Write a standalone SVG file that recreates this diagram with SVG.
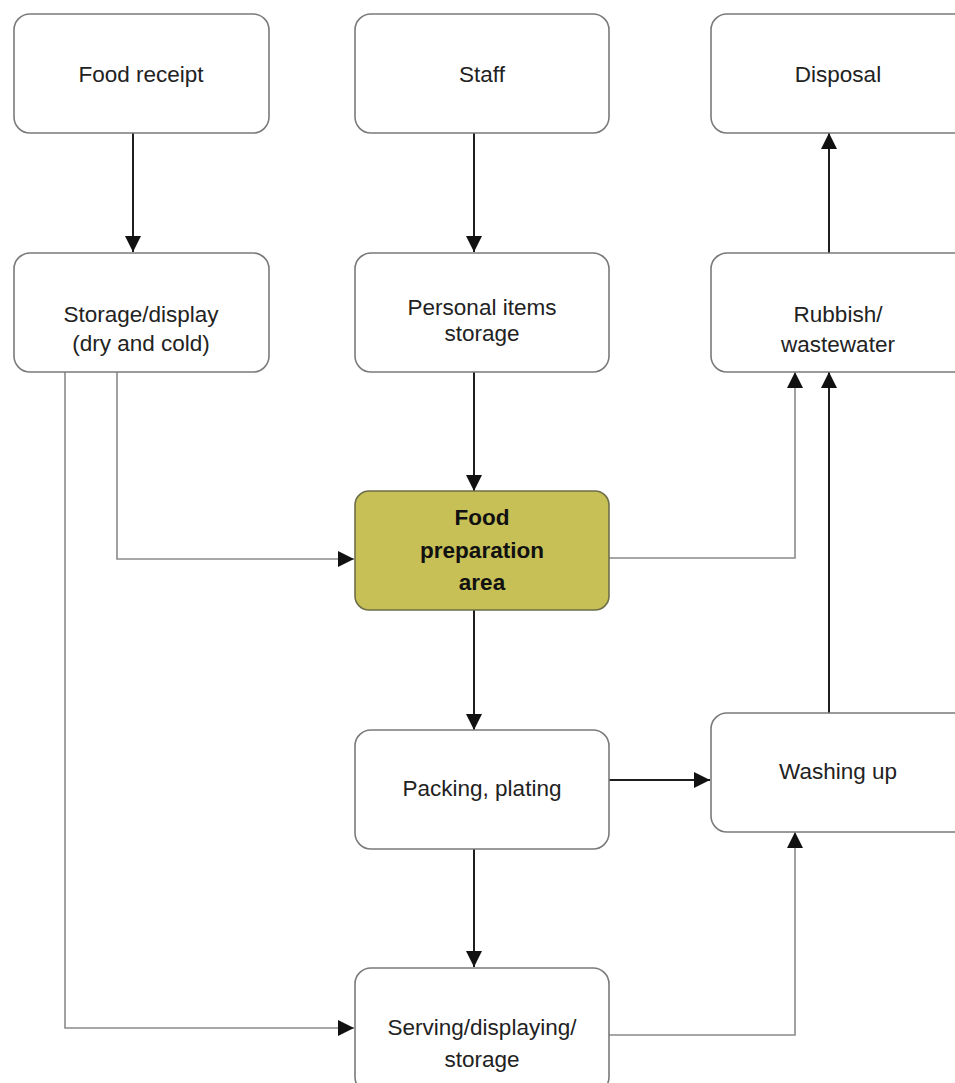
<svg xmlns="http://www.w3.org/2000/svg" width="955" height="1083" viewBox="0 0 955 1083">
<defs>
<style>
.box{fill:#ffffff;stroke:#7a7a7a;stroke-width:1.6}
.hl{fill:#c6c056;stroke:#6e6e4a;stroke-width:1.6}
.t{font-family:"Liberation Sans",Arial,sans-serif;font-size:22.5px;fill:#222;text-anchor:middle}
.b{font-weight:bold;fill:#111}
.dark{fill:none;stroke:#1e1e1e;stroke-width:2}
.grey{fill:none;stroke:#8a8a8a;stroke-width:1.6}
</style>
<marker id="ah" markerUnits="userSpaceOnUse" markerWidth="16" markerHeight="18" refX="16" refY="8" orient="auto">
<path d="M0,0 L16,8 L0,16 Z" fill="#111"/>
</marker>
</defs>
<rect width="955" height="1083" fill="#ffffff"/>
<g id="connectors">
<path class="dark" d="M133,133 V252" marker-end="url(#ah)"/>
<path class="dark" d="M474,133 V252" marker-end="url(#ah)"/>
<path class="dark" d="M474,372 V491" marker-end="url(#ah)"/>
<path class="dark" d="M474,610 V730" marker-end="url(#ah)"/>
<path class="dark" d="M474,849 V967" marker-end="url(#ah)"/>
<path class="dark" d="M609,780 H710" marker-end="url(#ah)"/>
<path class="dark" d="M829,713 V372" marker-end="url(#ah)"/>
<path class="dark" d="M829,253 V133" marker-end="url(#ah)"/>
<path class="grey" d="M117,372 V559 H354" marker-end="url(#ah)"/>
<path class="grey" d="M65,372 V1028 H354" marker-end="url(#ah)"/>
<path class="grey" d="M609,558 H795 V372" marker-end="url(#ah)"/>
<path class="grey" d="M609,1035 H795 V832" marker-end="url(#ah)"/>
</g>
<g id="food-receipt">
<rect class="box" x="14" y="14" width="255" height="119" rx="16"/>
<text class="t" x="141" y="82">Food receipt</text>
</g>
<g id="staff">
<rect class="box" x="355" y="14" width="254" height="119" rx="16"/>
<text class="t" x="482" y="82">Staff</text>
</g>
<g id="disposal">
<rect class="box" x="711" y="14" width="260" height="119" rx="16"/>
<text class="t" x="838" y="82">Disposal</text>
</g>
<g id="storage-display">
<rect class="box" x="14" y="253" width="255" height="119" rx="16"/>
<text class="t" x="141" y="322">Storage/display</text>
<text class="t" x="141" y="351">(dry and cold)</text>
</g>
<g id="personal-items">
<rect class="box" x="355" y="253" width="254" height="119" rx="16"/>
<text class="t" x="482" y="315">Personal items</text>
<text class="t" x="482" y="341">storage</text>
</g>
<g id="rubbish">
<rect class="box" x="711" y="253" width="260" height="119" rx="16"/>
<text class="t" x="838" y="322">Rubbish/</text>
<text class="t" x="838" y="352">wastewater</text>
</g>
<g id="food-preparation">
<rect class="hl" x="355" y="491" width="254" height="119" rx="14"/>
<text class="t b" x="482" y="525">Food</text>
<text class="t b" x="482" y="558">preparation</text>
<text class="t b" x="482" y="590">area</text>
</g>
<g id="packing">
<rect class="box" x="355" y="730" width="254" height="119" rx="16"/>
<text class="t" x="482" y="796">Packing, plating</text>
</g>
<g id="washing-up">
<rect class="box" x="711" y="713" width="260" height="119" rx="16"/>
<text class="t" x="838" y="779">Washing up</text>
</g>
<g id="serving">
<rect class="box" x="355" y="968" width="254" height="125" rx="16"/>
<text class="t" x="482" y="1035">Serving/displaying/</text>
<text class="t" x="482" y="1067">storage</text>
</g>
</svg>
